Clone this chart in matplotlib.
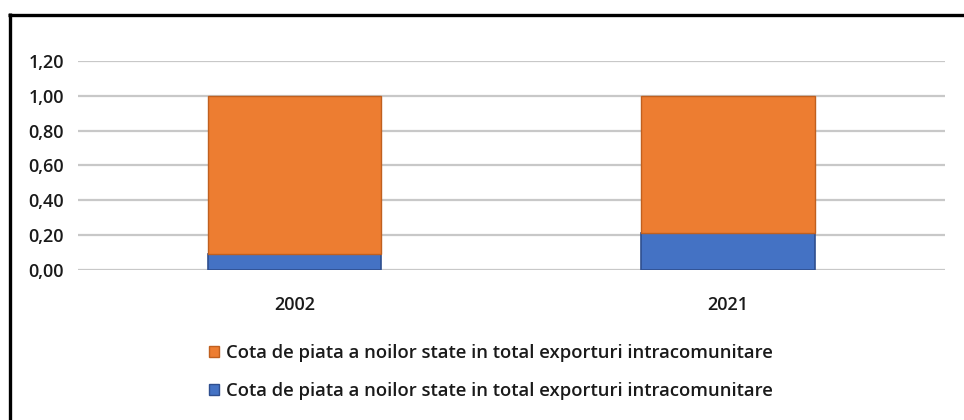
import matplotlib.pyplot as plt
from matplotlib.patches import Patch
from matplotlib.lines import Line2D
from matplotlib.ticker import FuncFormatter

plt.rcParams['font.family'] = ['Open Sans', 'DejaVu Sans']

years = ['2002', '2021']
cota_noi = [0.09, 0.21]        # blue, bottom segment
cota_rest = [0.91, 0.79]       # orange, top segment
legend_label = 'Cota de piata a noilor state in total exporturi intracomunitare'

orange = '#ED7D31'
blue = '#4472C4'

fig = plt.figure(figsize=(9.64, 4.2), dpi=100)
ax = fig.add_axes([0.081, 0.357, 0.899, 0.498])

x = range(len(years))
ax.bar(x, cota_noi, width=0.4, color=blue, edgecolor='#2F4F8F', linewidth=1.2, zorder=3)
ax.bar(x, cota_rest, width=0.4, bottom=cota_noi, color=orange, edgecolor='#C0601F',
       linewidth=1.0, zorder=3)

ax.set_xlim(-0.5, 1.5)
ax.set_ylim(0, 1.2)
ax.set_yticks([0, 0.2, 0.4, 0.6, 0.8, 1.0, 1.2])
ax.yaxis.set_major_formatter(FuncFormatter(lambda v, p: f'{v:.2f}'.replace('.', ',')))
ax.set_xticks(list(x))
ax.set_xticklabels(years)
ax.tick_params(axis='both', length=0, labelsize=13)
ax.tick_params(axis='y', pad=10)
ax.tick_params(axis='x', pad=19)
for lbl in ax.get_xticklabels() + ax.get_yticklabels():
    lbl.set_fontweight('semibold')
    lbl.set_color('#1a1a1a')

ax.grid(axis='y', color='#c8c8c8', linewidth=1.6, zorder=0)
for s in ax.spines.values():
    s.set_visible(False)

handles = [Patch(facecolor=orange, edgecolor='#C0601F'),
           Patch(facecolor=blue, edgecolor='#2F4F8F')]
fig.legend(handles, [legend_label, legend_label], loc='upper left',
           bbox_to_anchor=(0.217, 0.181), frameon=False,
           prop={'size': 13.3, 'weight': 'semibold'},
           handlelength=0.55, handleheight=0.6, handletextpad=0.35,
           labelspacing=1.08, borderaxespad=0, borderpad=0)
for t in fig.legends[0].get_texts():
    t.set_color('#1a1a1a')

# frame lines along the top and left edge
fig.add_artist(Line2D([8 / 964, 1], [1 - 14.5 / 420] * 2, transform=fig.transFigure,
                      color='black', linewidth=2.4, solid_capstyle='butt'))
fig.add_artist(Line2D([9.5 / 964] * 2, [0, 1 - 13 / 420], transform=fig.transFigure,
                      color='black', linewidth=2.4, solid_capstyle='butt'))

fig.savefig('out.png', dpi=100)
